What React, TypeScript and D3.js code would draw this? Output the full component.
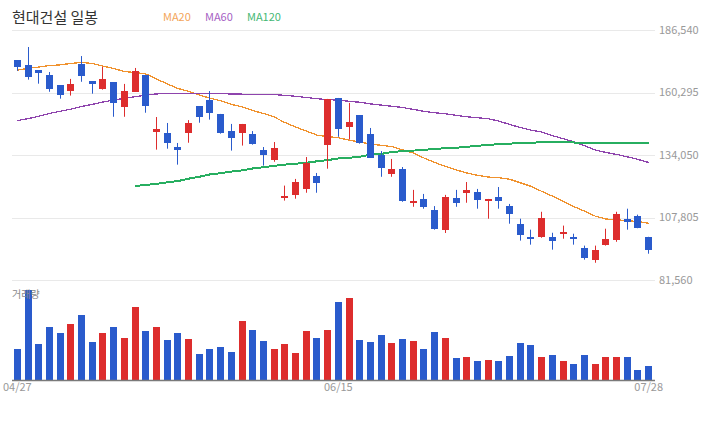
import React from "react";
import * as d3 from "d3";

// ---- data ----
const openP = [173900, 171800, 169700, 167600, 163400, 161100, 172300, 165100, 161900, 164700, 154300, 160600, 167600, 143800, 143300, 137400, 143400, 154600, 157100, 151300, 144100, 143400, 142900, 136100, 132100, 116100, 117400, 119900, 125200, 138400, 158000, 145900, 150800, 142900, 134100, 126200, 128200, 114000, 115600, 111000, 102700, 116000, 118200, 118500, 114900, 116400, 112600, 105100, 99700, 99700, 99700, 101000, 99700, 95100, 90100, 96400, 98500, 107300, 108600, 99700];
const highP = [173900, 179400, 169700, 168900, 163400, 166000, 175600, 165100, 171100, 164700, 163900, 170600, 167600, 150000, 147500, 139100, 148700, 154600, 160900, 151300, 147100, 147100, 144100, 137400, 139500, 121200, 124000, 133200, 126500, 157600, 158000, 155900, 150800, 145400, 135700, 132400, 129000, 119400, 117700, 112600, 117300, 119400, 122700, 119800, 115600, 120600, 113500, 107300, 102700, 110200, 101400, 104400, 101000, 96000, 96000, 103100, 110200, 111500, 109000, 99700];
const lowP = [169400, 165700, 164000, 160600, 157700, 159000, 164800, 159800, 161500, 150100, 150100, 160600, 151800, 136300, 136700, 130000, 139200, 147600, 148900, 143000, 135900, 138000, 138400, 129600, 131200, 114900, 115700, 118200, 118200, 128300, 141700, 140500, 138800, 132800, 124900, 124900, 114400, 112300, 111500, 102700, 101300, 112300, 114000, 111500, 107300, 111500, 105200, 98100, 96400, 99300, 94300, 98900, 96400, 90100, 88800, 96000, 97600, 102700, 103300, 92600];
const closeP = [171100, 166900, 168600, 161900, 159400, 163900, 167400, 164000, 166000, 156000, 160900, 169300, 154800, 145000, 139200, 136300, 147500, 150100, 151800, 143400, 141300, 147100, 138800, 134200, 137000, 117000, 122700, 130700, 122400, 157600, 145100, 147900, 139200, 132900, 128700, 128200, 114900, 114900, 112300, 103100, 116400, 114000, 119400, 115300, 115600, 114900, 109400, 100600, 98900, 107700, 98100, 101800, 98900, 90900, 94300, 98900, 109400, 106000, 103500, 94300];
const volume = [310000, 900000, 360000, 530000, 470000, 560000, 650000, 380000, 470000, 530000, 420000, 730000, 490000, 530000, 400000, 470000, 410000, 260000, 310000, 330000, 280000, 590000, 500000, 390000, 310000, 360000, 270000, 490000, 420000, 500000, 780000, 820000, 400000, 380000, 450000, 370000, 410000, 390000, 310000, 480000, 420000, 220000, 230000, 190000, 200000, 190000, 240000, 370000, 350000, 230000, 250000, 190000, 160000, 250000, 160000, 230000, 230000, 230000, 100000, 140000];
const ma20 = [169700, 170400, 171000, 171600, 171900, 172500, 172900, 172500, 171400, 170400, 169100, 168700, 168100, 166000, 163900, 162000, 160800, 159300, 157900, 156800, 155300, 154300, 152700, 151500, 150000, 147700, 145800, 144100, 142400, 141800, 141300, 140300, 139500, 138700, 138100, 137600, 136200, 134900, 132800, 130900, 129300, 127800, 126500, 125500, 124800, 124500, 123900, 122400, 120900, 118800, 116800, 114600, 112400, 110500, 108400, 107200, 106800, 106500, 106100, 105400];
const ma60 = [148500, 149300, 150300, 151500, 152400, 153300, 154400, 155300, 156300, 157100, 157900, 158500, 159200, 159700, 159900, 160000, 160000, 160000, 159900, 159800, 159700, 159600, 159600, 159500, 159400, 159100, 158700, 158200, 157700, 157300, 157100, 156600, 156200, 155500, 155000, 154500, 154000, 153200, 152400, 151800, 151400, 150700, 150100, 149700, 149300, 148300, 146900, 145600, 144500, 143700, 142200, 140900, 139600, 138000, 136200, 135100, 134300, 133300, 132200, 130900];
const ma120 = [null, null, null, null, null, null, null, null, null, null, null, 121000, 121500, 121900, 122600, 123100, 124100, 124900, 125900, 126400, 127100, 127600, 128400, 128900, 129500, 130000, 130400, 130800, 131400, 131900, 132600, 132900, 133300, 134200, 134500, 135300, 135700, 135900, 136200, 136600, 136900, 137100, 137500, 137900, 138300, 138600, 138800, 139100, 139200, 139400, 139500, 139500, 139300, 139100, 139200, 139200, 139200, 139200, 139200, 139200];
const yTickValues = [186540, 160295, 134050, 107805, 81560];
const xTickIndex = [0, 30, 59];
const xTickLabel = ["04/27", "06/15", "07/28"];
const title = "현대건설 일봉";
const legendNames = ["MA20", "MA60", "MA120"];

const UP = "#dd2d2d";
const DOWN = "#2a5bcc";
const MA_COLORS = ["#f0922e", "#8e44ad", "#27ae60"];
const LEGEND_COLORS = ["#f3a55a", "#a65fc4", "#45b874"];
const FONT = "'Noto Sans CJK KR', 'Noto Sans', sans-serif";

export default function App() {
  const n = openP.length;
  const idx = d3.range(n);
  const plotLeft = 12;
  const plotRight = 655;
  const x = d3.scalePoint<number>().domain(idx).range([plotLeft, plotRight - 1]).padding(0.5);
  const y = d3.scaleLinear().domain([81560, 186540]).range([280, 30]);
  const yv = d3.scaleLinear().domain([0, d3.max(volume) as number]).range([380, 290]);
  const bodyW = 7;

  const mkLine = (arr: (number | null)[]) =>
    d3
      .line<number | null>()
      .defined((d) => d != null)
      .x((_, i) => x(i) as number)
      .y((d) => y(d as number))(arr) || "";

  const mas = [ma20, ma60, ma120];
  const maWidths = [1.3, 1.3, 2];
  const legendX = [163, 205, 247];

  return (
    <svg
      width={720}
      height={440}
      style={{ position: "absolute", left: 0, top: 0, background: "#fff" }}
    >
      {/* title and legend */}
      <text x={12} y={23} fontFamily={FONT} fontSize={15} fill="#333">
        {title}
      </text>
      {legendNames.map((nm, k) => (
        <text key={nm} x={legendX[k]} y={21} fontFamily={FONT} fontSize={11} fill={LEGEND_COLORS[k]}>
          {nm}
        </text>
      ))}

      {/* grid */}
      {yTickValues.map((v) => (
        <g key={v}>
          <line
            x1={plotLeft}
            x2={plotRight}
            y1={Math.round(y(v)) + 0.5}
            y2={Math.round(y(v)) + 0.5}
            stroke="#e9e9e9"
            strokeWidth={1}
          />
          <text
            x={659}
            y={y(v)}
            dy="0.35em"
            fontFamily={FONT}
            fontSize={11}
            fill="#999"
          >
            {d3.format(",")(v)}
          </text>
        </g>
      ))}

      {/* moving averages */}
      {mas.map((arr, k) => (
        <path
          key={k}
          d={mkLine(arr)}
          fill="none"
          stroke={MA_COLORS[k]}
          strokeWidth={maWidths[k]}
          shapeRendering="crispEdges"
        />
      ))}

      {/* candles */}
      {idx.map((i) => {
        const cx = x(i) as number;
        const bx = Math.round(cx - bodyW / 2);
        const up = closeP[i] >= openP[i];
        const col = up ? UP : DOWN;
        const top = y(Math.max(openP[i], closeP[i]));
        const bot = y(Math.min(openP[i], closeP[i]));
        return (
          <g key={i}>
            <line
              x1={bx + bodyW / 2}
              x2={bx + bodyW / 2}
              y1={y(highP[i])}
              y2={y(lowP[i])}
              stroke={col}
              strokeWidth={1}
            />
            <rect
              x={bx}
              y={top}
              width={bodyW}
              height={Math.max(1.5, bot - top)}
              fill={col}
              shapeRendering="crispEdges"
            />
          </g>
        );
      })}

      {/* volume */}
      {idx.map((i) => {
        const cx = x(i) as number;
        const bx = Math.round(cx - bodyW / 2);
        const up = closeP[i] >= openP[i];
        return (
          <rect
            key={"v" + i}
            x={bx}
            y={yv(volume[i])}
            width={bodyW}
            height={380 - yv(volume[i])}
            fill={up ? UP : DOWN}
            shapeRendering="crispEdges"
          />
        );
      })}
      <text x={12} y={298} fontFamily={FONT} fontSize={10} fill="#888">
        거래량
      </text>
      <line x1={plotLeft} x2={plotRight} y1={380.5} y2={380.5} stroke="#7a7a7a" strokeWidth={1.5} />

      {/* x ticks */}
      {xTickIndex.map((ti, k) => (
        <text
          key={ti}
          x={x(ti) as number}
          y={391}
          textAnchor="middle"
          fontFamily={FONT}
          fontSize={11}
          fill="#999"
        >
          {xTickLabel[k]}
        </text>
      ))}
    </svg>
  );
}
